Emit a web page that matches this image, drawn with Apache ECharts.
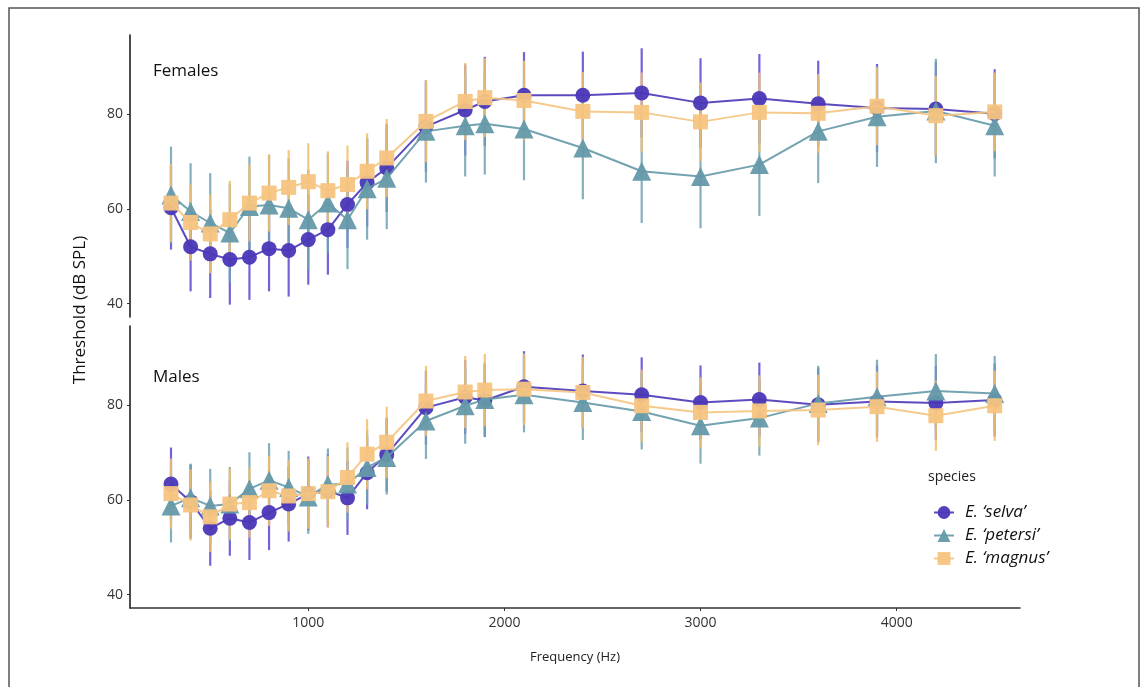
<!DOCTYPE html>
<html>
<head>
<meta charset="utf-8">
<script src="https://cdn.jsdelivr.net/npm/echarts@6/dist/echarts.min.js"></script>
<style>
  html, body { margin: 0; padding: 0; background: #fff; }
  #chart { width: 1144px; height: 687px; }
</style>
</head>
<body>
<div id="chart"></div>
<script>
// frequencies (Hz)
const freq = [300, 400, 500, 600, 700, 800, 900, 1000, 1100, 1200, 1300, 1400,
  1600, 1800, 1900, 2100, 2400, 2700, 3000, 3300, 3600, 3900, 4200, 4500];

const species = ["E. \u2018selva\u2019", "E. \u2018petersi\u2019", "E. \u2018magnus\u2019"];

// Females: mean threshold and sd
const femSelva = [60.2, 52.0, 50.5, 49.3, 49.8, 51.6, 51.2, 53.5, 55.6, 60.9, 65.5, 68.6,
  77.3, 80.8, 82.6, 83.9, 83.9, 84.4, 82.3, 83.2, 82.1, 81.2, 81.0, 80.0];
const femSelvaSd = [8.8, 9.4, 9.3, 9.5, 9.0, 9.0, 9.7, 9.5, 9.5, 9.2, 9.3, 9.3,
  9.5, 9.6, 9.4, 9.1, 9.2, 9.4, 9.4, 9.4, 9.1, 9.3, 9.9, 9.4];
const femPetersi = [62.9, 59.4, 57.0, 54.9, 60.5, 60.8, 60.1, 57.7, 61.2, 57.7, 64.2, 66.4,
  76.3, 77.5, 77.9, 76.8, 72.8, 67.9, 66.8, 69.3, 76.3, 79.4, 80.6, 77.5];
const femPetersiSd = [10.2, 10.2, 10.5, 10.4, 10.5, 10.6, 10.5, 10.6, 10.5, 10.4, 10.7, 10.7,
  10.8, 10.7, 10.7, 10.8, 10.8, 10.9, 10.9, 10.8, 10.9, 10.6, 11.0, 10.7];
const femMagnus = [61.2, 57.1, 54.7, 57.7, 61.2, 63.3, 64.5, 65.7, 63.8, 65.1, 67.9, 70.7,
  78.4, 82.6, 83.4, 82.8, 80.5, 80.3, 78.3, 80.3, 80.1, 81.6, 79.6, 80.4];
const femMagnusSd = [8.2, 8.0, 8.3, 8.2, 8.1, 8.1, 7.9, 8.1, 8.3, 8.2, 8.0, 8.2,
  8.6, 8.1, 8.3, 8.4, 8.3, 8.4, 8.3, 8.4, 8.3, 8.2, 8.4, 8.3];

// Males: mean threshold and sd
const maleSelva = [63.3, 59.6, 54.0, 56.1, 55.2, 57.3, 59.1, 61.3, 61.9, 60.4, 65.7, 69.5,
  79.4, 81.6, 80.9, 83.8, 82.9, 82.1, 80.5, 81.1, 80.0, 80.7, 80.4, 81.0];
const maleSelvaSd = [7.7, 7.8, 7.9, 7.9, 7.9, 7.9, 7.9, 7.8, 7.7, 7.8, 7.7, 7.8,
  7.8, 7.8, 7.7, 7.5, 7.7, 7.9, 7.8, 7.8, 7.8, 7.6, 7.8, 7.7];
const malePetersi = [58.7, 60.4, 58.7, 59.1, 62.3, 64.1, 62.6, 60.6, 63.2, 63.3, 66.8, 68.9,
  76.6, 79.8, 81.1, 82.1, 80.5, 78.6, 75.6, 77.2, 80.3, 81.7, 82.9, 82.4];
const malePetersiSd = [7.7, 7.2, 7.8, 7.8, 7.7, 7.8, 7.7, 7.8, 7.6, 7.7, 7.8, 7.8,
  8.0, 8.0, 7.8, 7.9, 7.9, 8.0, 8.0, 7.9, 7.9, 7.8, 7.8, 7.9];
const maleMagnus = [61.3, 58.9, 56.4, 59.1, 59.4, 61.9, 60.8, 61.3, 61.7, 64.7, 69.6, 72.1,
  80.8, 82.7, 83.1, 83.3, 82.6, 79.8, 78.4, 78.7, 78.9, 79.6, 77.7, 79.8];
const maleMagnusSd = [7.4, 7.5, 7.4, 7.5, 7.4, 7.4, 7.5, 7.4, 7.5, 7.4, 7.4, 7.5,
  7.4, 7.6, 7.6, 7.5, 7.5, 7.6, 7.4, 7.5, 7.4, 7.4, 7.4, 7.4];

const xTicks = [1000, 2000, 3000, 4000];
const yTicks = [40, 60, 80];

const colors = ['#4a37b8', '#6499a9', '#f5c47f'];
const barColors = ['#5b48d2', '#6fa2b2', '#f3bd6a'];
const symbols = ['circle', 'triangle', 'rect'];
const symbolSizes = [15, 19, 15];
const FONT = 'Open Sans';

const panels = [
  [femSelva, femPetersi, femMagnus],
  [maleSelva, malePetersi, maleMagnus]
];
const panelSds = [
  [femSelvaSd, femPetersiSd, femMagnusSd],
  [maleSelvaSd, malePetersiSd, maleMagnusSd]
];

let series = [];
// error bars (mean +/- sd)
panels.forEach(function (panel, p) {
  panel.forEach(function (means, s) {
    const sds = panelSds[p][s];
    series.push({
      name: species[s] + ' err' + p,
      type: 'custom',
      xAxisIndex: p,
      yAxisIndex: p,
      z: 2,
      silent: true,
      renderItem: function (params, api) {
        const a = api.coord([api.value(0), api.value(1)]);
        const b = api.coord([api.value(0), api.value(2)]);
        return {
          type: 'line',
          shape: { x1: a[0], y1: a[1], x2: b[0], y2: b[1] },
          style: { stroke: barColors[s], lineWidth: 2.2, opacity: 0.85 }
        };
      },
      encode: { x: 0, y: [1, 2] },
      data: freq.map(function (f, i) { return [f, means[i] - sds[i], means[i] + sds[i]]; })
    });
  });
});
// lines + points
panels.forEach(function (panel, p) {
  panel.forEach(function (means, s) {
    series.push({
      name: species[s],
      type: 'line',
      xAxisIndex: p,
      yAxisIndex: p,
      z: 3 + s,
      symbol: symbols[s],
      symbolSize: symbolSizes[s],
      color: colors[s],
      lineStyle: { width: 2, color: colors[s], opacity: 0.9 },
      itemStyle: { color: colors[s], opacity: 0.95 },
      data: freq.map(function (f, i) { return [f, means[i]]; })
    });
  });
});

const chart = echarts.init(document.getElementById('chart'));
const xBase = {
  type: 'value',
  min: 91,
  max: 4629,
  splitLine: { show: false }
};
const yBase = {
  type: 'value',
  min: 37.2,
  max: 96.6,
  splitLine: { show: false },
  axisLine: { show: true, lineStyle: { color: '#111', width: 1.5 } },
  axisTick: { show: true, length: 3, customValues: yTicks, lineStyle: { color: '#333' } },
  axisLabel: { customValues: yTicks, color: '#333', fontSize: 14, fontFamily: FONT, margin: 7,
    formatter: function (v) { return String(v); } }
};

chart.setOption({
  animation: false,
  backgroundColor: '#fff',
  grid: [
    { left: 130, top: 35, width: 890, height: 282 },
    { left: 130, top: 326, width: 890, height: 282 }
  ],
  xAxis: [
    Object.assign({}, xBase, {
      gridIndex: 0,
      axisLine: { show: false },
      axisTick: { show: false },
      axisLabel: { show: false }
    }),
    Object.assign({}, xBase, {
      gridIndex: 1,
      name: 'Frequency (Hz)',
      nameLocation: 'middle',
      nameGap: 43,
      nameTextStyle: { color: '#222', fontSize: 13, fontFamily: FONT },
      axisLine: { show: true, onZero: false, lineStyle: { color: '#333', width: 1.5 } },
      axisTick: { show: true, length: 3, customValues: xTicks, lineStyle: { color: '#333' } },
      axisLabel: { customValues: xTicks, color: '#333', fontSize: 14, fontFamily: FONT, margin: 8,
        formatter: function (v) { return String(v); } }
    })
  ],
  yAxis: [
    Object.assign({}, yBase, { gridIndex: 0 }),
    Object.assign({}, yBase, { gridIndex: 1 })
  ],
  legend: {
    data: species,
    orient: 'vertical',
    left: 928,
    top: 499,
    itemWidth: 20,
    itemHeight: 16,
    itemGap: 6,
    textStyle: { fontSize: 17, fontStyle: 'italic', fontFamily: FONT, color: '#111', padding: [0, 0, 0, 6] }
  },
  graphic: [
    { type: 'rect', shape: { x: 9, y: 8, width: 1130, height: 720 },
      style: { fill: 'none', stroke: '#555', lineWidth: 1.5 }, silent: true },
    { type: 'text', left: 153, top: 63,
      style: { text: 'Females', fontSize: 17, fontFamily: FONT, fill: '#111' } },
    { type: 'text', left: 153, top: 369,
      style: { text: 'Males', fontSize: 17, fontFamily: FONT, fill: '#111' } },
    { type: 'text', left: 928, top: 470,
      style: { text: 'species', fontSize: 14, fontFamily: FONT, fill: '#222' } },
    { type: 'text', x: 80, y: 310, rotation: Math.PI / 2,
      style: { text: 'Threshold (dB SPL)', fontSize: 17, fontFamily: FONT, fill: '#111',
        align: 'center', verticalAlign: 'middle' } }
  ],
  series: series
});
</script>
</body>
</html>
